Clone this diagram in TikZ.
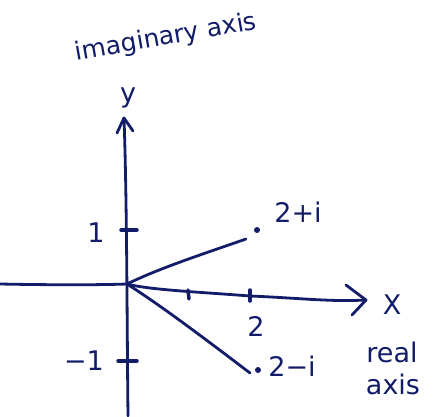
\documentclass[tikz,border=0pt]{standalone}
\usepackage{fontspec}
\setmainfont{DejaVu Sans}
\usetikzlibrary{arrows.meta}
\definecolor{ink}{RGB}{18,28,105}
\tikzset{
  pen/.style={draw=ink, line width=2.8pt, line cap=round, line join=round},
  tickmark/.style={draw=ink, line width=3.5pt, line cap=round},
  lbl/.style={text=ink, font=\fontsize{27}{29}\selectfont, inner sep=0pt},
  dotmark/.style={circle, fill=ink, inner sep=0pt, minimum size=6pt},
}
\begin{document}
\begin{tikzpicture}[x=1pt,y=-1pt]
\useasboundingbox (0,0) rectangle (442,416);
% key points
\coordinate (O) at (127,284);
\coordinate (ybot) at (128,416);
\coordinate (ytop) at (124,118);
\coordinate (xleft) at (0,284);
\coordinate (xend) at (366,300);
\coordinate (p) at (246,239);
\coordinate (q) at (250,373);
% axes
\draw[pen] (ybot) .. controls (127,330) and (127,200) .. (ytop);
\draw[pen] (ytop) -- (117,133);
\draw[pen] (ytop) -- (133,131);
\draw[pen] (xleft) .. controls (50,285) and (100,285) .. (O);
\draw[pen] (O) .. controls (150,290) and (200,292) .. (250,296)
  .. controls (300,298) and (330,302) .. (xend);
\draw[pen] (346,285) -- (xend) -- (352,315);
% ticks
\draw[tickmark] (188,290) -- (189,299);
\draw[tickmark] (250,290) -- (250,301);
\draw[tickmark] (121,230) -- (137,230);
\draw[tickmark] (118,361) -- (137,361);
% vectors
\draw[pen] (O) .. controls (160,268) and (200,255) .. (p);
\draw[pen] (O) .. controls (160,305) and (200,335) .. (q);
\node[dotmark] (dp) at (257,230) {};
\node[dotmark] (dq) at (258,370) {};
% labels
\node[lbl, font=\fontsize{25}{27}\selectfont, rotate=10] (im) at (166,38) {imaginary axis};
\node[lbl] (ylab) at (128,98) {y};
\node[lbl] (xlab) at (392,305) {X};
\node[lbl] (two) at (256,326) {2};
\node[lbl] (one) at (96,233) {1};
\node[lbl] (mone) at (84,361) {−1};
\node[lbl] (pl) at (298,212) {2+i};
\node[lbl] (ql) at (292,366) {2−i};
\node[lbl] (re1) at (392,352) {real};
\node[lbl] (re2) at (393,384) {axis};
\end{tikzpicture}
\end{document}
